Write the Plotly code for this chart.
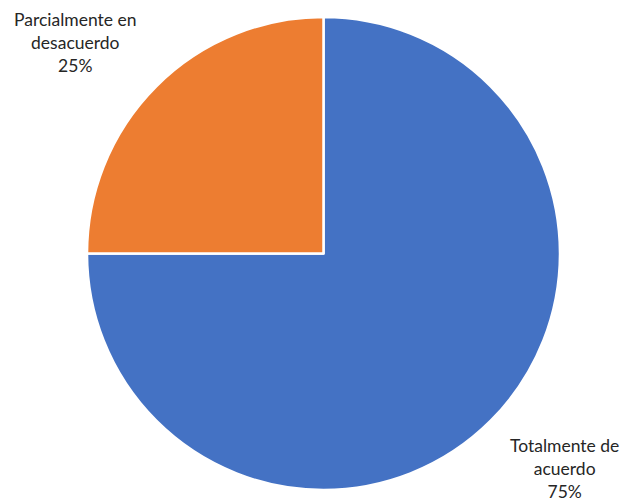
import plotly.graph_objects as go

categories = ["Totalmente de acuerdo", "Parcialmente en desacuerdo"]
values = [75, 25]
label_lines = ["Totalmente de<br>acuerdo", "Parcialmente en<br>desacuerdo"]
colors = ["#4472C4", "#ED7D31"]

W, H = 623, 500


def px_x(x):
    return x / W


def px_y(y):
    return 1 - y / H


fig = go.Figure(go.Pie(
    labels=categories,
    values=values,
    sort=False,
    direction="clockwise",
    rotation=0,
    marker=dict(colors=colors, line=dict(color="white", width=2.5)),
    textinfo="none",
    hoverinfo="label+percent",
    showlegend=False,
    domain=dict(x=[px_x(87), px_x(560)], y=[px_y(490), px_y(17)]),
))

total = sum(values)
pos = [(564, 468), (75.5, 43)]
for lbl, v, (x, y) in zip(label_lines, values, pos):
    fig.add_annotation(
        x=px_x(x), y=px_y(y), xref="paper", yref="paper",
        xanchor="center", yanchor="middle",
        text=f"{lbl}<br>{round(100 * v / total)}%",
        showarrow=False, align="center",
        font=dict(family="Lato, Open Sans, sans-serif", size=17.5, color="#262626"),
    )

fig.update_layout(
    width=W, height=H,
    margin=dict(l=0, r=0, t=0, b=0),
    paper_bgcolor="white", plot_bgcolor="white",
)
fig.write_html(
    "out.html",
    config={"displayModeBar": False},
    post_script="document.body.style.margin='0';document.body.style.overflow='hidden';",
)
